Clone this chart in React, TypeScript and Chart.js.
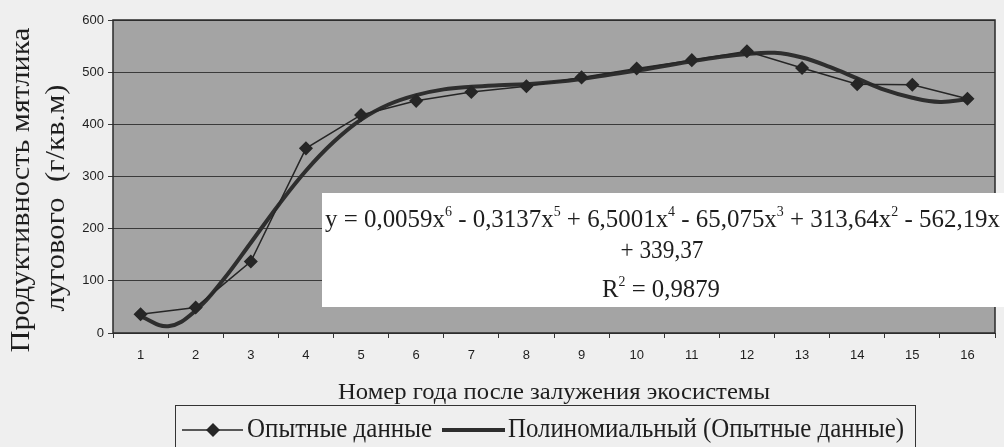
import React, { useEffect, useRef } from 'react';
import { Chart, registerables } from 'chart.js';

Chart.register(...registerables);

// ---------- data ----------
const years = ['1', '2', '3', '4', '5', '6', '7', '8', '9', '10', '11', '12', '13', '14', '15', '16'];
const observed = [36, 49, 137, 354, 418, 445, 462, 473, 490, 507, 523, 540, 508, 477, 476, 449];

// polynomial trend line at half-year steps
const trendX = [1, 1.5, 2, 2.5, 3, 3.5, 4, 4.5, 5, 5.5, 6, 6.5, 7, 7.5, 8, 8.5, 9, 9.5, 10, 10.5, 11, 11.5, 12, 12.5, 13, 13.5, 14, 14.5, 15, 15.5, 16];
const trendY = [32, 13, 43, 102, 173, 245, 311, 366, 409, 438, 456, 467, 472, 475, 477, 481, 487, 495, 503, 512, 521, 529, 535, 537, 528, 510, 488, 466, 451, 443, 448];

const yMin = 0;
const yMax = 600;
const yStep = 100;

const seriesNames = ['Опытные данные', 'Полиномиальный (Опытные данные)'];
const xTitle = 'Номер года после залужения экосистемы';
const yTitleLines = ['Продуктивность мятлика', 'лугового  (г/кв.м)'];
const eqLine1: [string, boolean][] = [
  ['y = 0,0059x', false], ['6', true],
  [' - 0,3137x', false], ['5', true],
  [' + 6,5001x', false], ['4', true],
  [' - 65,075x', false], ['3', true],
  [' + 313,64x', false], ['2', true],
  [' - 562,19x', false],
];
const eqLine2: [string, boolean][] = [['+ 339,37', false]];
const eqLine3: [string, boolean][] = [['R', false], ['2', true], [' = 0,9879', false]];

const SERIF = '"Liberation Serif", "Times New Roman", serif';
const SANS = '"Liberation Sans", Arial, sans-serif';
const INK = '#1e1e1e';

function drawRich(
  ctx: CanvasRenderingContext2D,
  pieces: [string, boolean][],
  x: number,
  baseline: number,
  targetW: number,
  mainPx: number,
  supPx: number,
  supRise: number,
  align: 'left' | 'center'
) {
  let total = 0;
  const widths = pieces.map(([t, sup]) => {
    ctx.font = `${sup ? supPx : mainPx}px ${SERIF}`;
    const w = ctx.measureText(t).width;
    total += w;
    return w;
  });
  const s = targetW / total;
  const startX = align === 'center' ? x - targetW / 2 : x;
  ctx.save();
  ctx.translate(startX, baseline);
  ctx.scale(s, 1);
  ctx.textAlign = 'left';
  ctx.textBaseline = 'alphabetic';
  ctx.fillStyle = INK;
  let cx = 0;
  pieces.forEach(([t, sup], i) => {
    ctx.font = `${sup ? supPx : mainPx}px ${SERIF}`;
    ctx.fillText(t, cx, sup ? -supRise : 0);
    cx += widths[i];
  });
  ctx.restore();
}

function drawFit(
  ctx: CanvasRenderingContext2D,
  text: string,
  cx: number,
  cy: number,
  targetW: number,
  px: number,
  rotate: number,
  baseline: CanvasTextBaseline
) {
  ctx.save();
  ctx.font = `${px}px ${SERIF}`;
  const w = ctx.measureText(text).width;
  ctx.translate(cx, cy);
  ctx.rotate(rotate);
  ctx.scale(targetW / w, 1);
  ctx.textAlign = 'center';
  ctx.textBaseline = baseline;
  ctx.fillStyle = INK;
  ctx.fillText(text, 0, 0);
  ctx.restore();
}

const decor = {
  id: 'decor',
  beforeDraw(chart: any) {
    const { ctx, chartArea: a, width, height } = chart;
    ctx.save();
    ctx.fillStyle = '#efefef';
    ctx.fillRect(0, 0, width, height);
    ctx.fillStyle = '#a4a4a4';
    ctx.fillRect(a.left, a.top, a.right - a.left, a.bottom - a.top);
    ctx.restore();
  },
  afterDraw(chart: any) {
    const { ctx, chartArea: a } = chart;
    ctx.save();
    // plot border
    ctx.strokeStyle = '#2a2a2a';
    ctx.lineWidth = 1.5;
    ctx.strokeRect(a.left, a.top, a.right - a.left, a.bottom - a.top);

    // equation box
    ctx.fillStyle = '#ffffff';
    ctx.fillRect(322, 193, 1004 - 322, 307 - 193);
    drawRich(ctx, eqLine1, 325, 227, 675, 25, 14, 11, 'left');
    drawRich(ctx, eqLine2, 662, 258, 83, 25, 14, 11, 'center');
    drawRich(ctx, eqLine3, 661, 297, 118, 25, 14, 11, 'center');

    // y title
    drawFit(ctx, yTitleLines[0], 22, 190, 325, 28, -Math.PI / 2, 'middle');
    drawFit(ctx, yTitleLines[1], 57, 198, 227, 28, -Math.PI / 2, 'middle');

    // x title
    const midX = (a.left + a.right) / 2;
    drawFit(ctx, xTitle, midX, 399, 432, 23, 0, 'alphabetic');

    // legend
    ctx.strokeStyle = '#333';
    ctx.lineWidth = 1;
    ctx.strokeRect(175.5, 405.5, 740, 80);
    const ly = 430;
    ctx.strokeStyle = '#262626';
    ctx.lineWidth = 1.5;
    ctx.beginPath();
    ctx.moveTo(182, ly);
    ctx.lineTo(243, ly);
    ctx.stroke();
    ctx.fillStyle = '#262626';
    ctx.beginPath();
    ctx.moveTo(213, ly - 7);
    ctx.lineTo(220, ly);
    ctx.lineTo(213, ly + 7);
    ctx.lineTo(206, ly);
    ctx.closePath();
    ctx.fill();
    drawFit(ctx, chart.data.datasets[0].label, (247 + 432) / 2, 437, 185, 27, 0, 'alphabetic');
    ctx.strokeStyle = '#2e2e2e';
    ctx.lineWidth = 4;
    ctx.beginPath();
    ctx.moveTo(442, ly);
    ctx.lineTo(505, ly);
    ctx.stroke();
    drawFit(ctx, chart.data.datasets[1].label, (508 + 904) / 2, 437, 396, 27, 0, 'alphabetic');
    ctx.restore();
  },
};

export default function App() {
  const ref = useRef<HTMLCanvasElement | null>(null);

  useEffect(() => {
    if (!ref.current) return;
    const chart = new Chart(ref.current, {
      type: 'line',
      data: {
        labels: years,
        datasets: [
          {
            label: seriesNames[0],
            data: observed,
            xAxisID: 'x',
            borderColor: '#262626',
            backgroundColor: '#262626',
            borderWidth: 1.5,
            pointStyle: 'rectRot',
            pointRadius: 6,
            pointBackgroundColor: '#262626',
            pointBorderColor: '#262626',
            tension: 0,
            order: 0,
          },
          {
            label: seriesNames[1],
            data: trendX.map((x, i) => ({ x, y: trendY[i] })) as any,
            xAxisID: 'xt',
            borderColor: '#2e2e2e',
            borderWidth: 4,
            pointRadius: 0,
            tension: 0.4,
            order: 1,
          },
        ],
      },
      options: {
        responsive: false,
        animation: false,
        events: [],
        layout: { padding: { top: 20, right: 9, left: 0, bottom: 0 } },
        plugins: {
          legend: { display: false },
          tooltip: { enabled: false },
        },
        scales: {
          x: {
            type: 'category',
            offset: true,
            grid: { offset: true, drawOnChartArea: false, tickLength: 5, color: '#333' },
            border: { display: false },
            ticks: { color: INK, font: { family: SANS, size: 13 }, padding: 10, maxRotation: 0, autoSkip: false },
            afterFit(scale: any) {
              scale.height = 114;
            },
          },
          xt: {
            type: 'linear',
            display: false,
            min: 0.5,
            max: 16.5,
          },
          y: {
            min: yMin,
            max: yMax,
            ticks: { stepSize: yStep, color: INK, font: { family: SANS, size: 13 }, padding: 4 },
            grid: { color: '#3a3a3a', lineWidth: 1, tickLength: 5 },
            border: { display: false },
            afterFit(scale: any) {
              scale.width = 113;
            },
          },
        },
      },
      plugins: [decor],
    });
    return () => chart.destroy();
  }, []);

  return (
    <div style={{ position: 'absolute', left: 0, top: 0, width: 1004, height: 447 }}>
      <canvas ref={ref} width={1004} height={447} style={{ display: 'block' }} />
    </div>
  );
}
